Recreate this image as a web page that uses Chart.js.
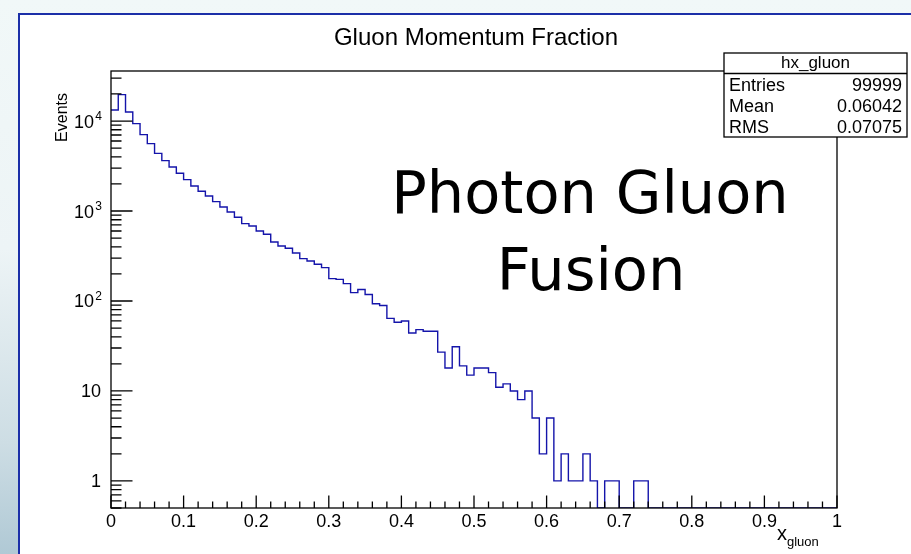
<!DOCTYPE html>
<html>
<head>
<meta charset="utf-8">
<script src="https://cdn.jsdelivr.net/npm/chart.js@4.4.1/dist/chart.umd.min.js"></script>
<style>
  html, body { margin: 0; padding: 0; }
  body {
    width: 911px; height: 554px; overflow: hidden; position: relative;
    background: linear-gradient(to bottom, #f1f8f8 0%, #edf4f6 45%, #cddde4 80%, #b0c9d5 100%);
  }
  #pad {
    position: absolute; left: 18px; top: 13px; right: 0; bottom: 0;
    background: #fff; border-left: 2px solid #1b2fa8; border-top: 2px solid #1b2fa8;
  }
  #chart { position: absolute; left: 0; top: 0; }
</style>
</head>
<body>
<div id="pad"></div>
<canvas id="chart" width="911" height="554"></canvas>
<script>
// histogram hx_gluon: 100 bins from 0 to 1
const binLow = 0;
const binWidth = 0.01;
const xgluonCounts = [
  13250, 19650, 12590, 9360, 7060, 5610, 4375, 3630, 3083, 2624,
  2233, 1897, 1656, 1468, 1271, 1107, 974, 851, 724, 681,
  600, 551, 452, 408, 385, 341, 296, 278, 256, 235,
  177, 174, 156, 124, 134, 118, 93, 89, 64, 58,
  60, 44, 48, 46, 46, 27, 18, 31, 19, 15,
  18, 18, 16, 11, 12, 10, 8, 10, 5, 2,
  5, 1, 2, 1, 1, 2, 1, 0, 1, 1,
  0, 0, 1, 1, 0, 0, 0, 0, 0, 0,
  0, 0, 0, 0, 0, 0, 0, 0, 0, 0,
  0, 0, 0, 0, 0, 0, 0, 0, 0, 0
];

const xTickValues = [0, 0.1, 0.2, 0.3, 0.4, 0.5, 0.6, 0.7, 0.8, 0.9, 1];
const xTickLabels = ['0', '0.1', '0.2', '0.3', '0.4', '0.5', '0.6', '0.7', '0.8', '0.9', '1'];
const yTickValues = [1, 10, 100, 1000, 10000];
const yTickLabels = [['1', ''], ['10', ''], ['10', '2'], ['10', '3'], ['10', '4']];
const yAxisMin = 0.5;
const yAxisMax = 36000;

const statsName = 'hx_gluon';
const statsLabels = ['Entries', 'Mean', 'RMS'];
const statsValues = ['99999', '0.06042', '0.07075'];

const HELV = '"Liberation Sans", Arial, sans-serif';

function txt(ctx, s, x, y, size, align, sx) {
  ctx.save();
  ctx.font = size + 'px ' + HELV;
  ctx.textAlign = align || 'left';
  ctx.textBaseline = 'alphabetic';
  ctx.translate(x, y);
  ctx.scale(sx || 1, 1);
  ctx.fillText(s, 0, 0);
  ctx.restore();
}

const rootStyle = {
  id: 'rootStyle',
  afterDatasetsDraw(chart) {
    const { ctx, chartArea: a } = chart;
    const xs = chart.scales.x, ys = chart.scales.y;
    ctx.save();
    ctx.strokeStyle = '#000';
    ctx.fillStyle = '#000';
    ctx.lineWidth = 1.3;

    // frame
    ctx.strokeRect(a.left, a.top, a.right - a.left, a.bottom - a.top);

    // x ticks, pointing into the frame
    ctx.beginPath();
    for (let v = 0; v <= 50; v++) {
      const px = xs.getPixelForValue(v * 0.02);
      const len = v % 5 === 0 ? 12.5 : 6.5;
      ctx.moveTo(px, a.bottom);
      ctx.lineTo(px, a.bottom - len);
    }
    // y ticks (log)
    for (let d = -1; d <= 4; d++) {
      for (let m = 1; m <= 9; m++) {
        const v = m * Math.pow(10, d);
        if (v < ys.min || v > ys.max) continue;
        const py = ys.getPixelForValue(v);
        const len = m === 1 ? 21.5 : 10.5;
        ctx.moveTo(a.left, py);
        ctx.lineTo(a.left + len, py);
      }
    }
    ctx.stroke();

    // x tick labels
    xTickValues.forEach((v, i) => {
      txt(ctx, xTickLabels[i], xs.getPixelForValue(v), 527, 18, 'center');
    });
    // y tick labels
    yTickValues.forEach((v, i) => {
      const py = ys.getPixelForValue(v);
      const [base, exp] = yTickLabels[i];
      if (exp) {
        txt(ctx, exp, 102, py - 1, 12, 'right');
        txt(ctx, base, 94, py + 6.5, 18, 'right');
      } else {
        txt(ctx, base, 101, py + 6.5, 18, 'right');
      }
    });

    // axis titles
    txt(ctx, 'x', 787, 540, 20, 'right');
    txt(ctx, 'gluon', 787, 546, 13, 'left');
    ctx.save();
    ctx.translate(67, 93);
    ctx.rotate(-Math.PI / 2);
    txt(ctx, 'Events', 0, 0, 16, 'right');
    ctx.restore();

    // title
    txt(ctx, 'Gluon Momentum Fraction', 476, 45, 24, 'center');

    // stats box
    const bx = 724, by = 53, bw = 183, bh = 84;
    ctx.fillStyle = '#fff';
    ctx.fillRect(bx, by, bw, bh);
    ctx.strokeRect(bx, by, bw, bh);
    ctx.beginPath();
    ctx.moveTo(bx, by + 20.5);
    ctx.lineTo(bx + bw, by + 20.5);
    ctx.stroke();
    ctx.fillStyle = '#000';
    txt(ctx, statsName, bx + bw / 2, by + 15, 17, 'center');
    statsLabels.forEach((l, i) => {
      const base = by + 37.5 + i * 21;
      txt(ctx, l, bx + 5, base, 18, 'left');
      txt(ctx, statsValues[i], bx + bw - 5, base, 18, 'right');
    });

    // annotation
    ctx.font = '59px "DejaVu Sans", sans-serif';
    ctx.textAlign = 'center';
    ctx.fillText('Photon Gluon', 590, 213);
    ctx.fillText('Fusion', 591, 290);
    ctx.restore();
  }
};

// empty bins sit on the bottom of the log axis, as ROOT draws them
const points = xgluonCounts.map((c, i) => ({ x: binLow + i * binWidth, y: Math.max(c, yAxisMin) }));
points.push({ x: binLow + xgluonCounts.length * binWidth, y: points[points.length - 1].y });

new Chart(document.getElementById('chart'), {
  type: 'line',
  data: {
    datasets: [{
      label: 'hx_gluon',
      data: points,
      stepped: true,
      borderColor: '#1414aa',
      borderWidth: 1.4,
      pointRadius: 0,
      fill: false
    }]
  },
  options: {
    responsive: false,
    animation: false,
    layout: { padding: { left: 111, right: 74, top: 71, bottom: 46 } },
    plugins: { legend: { display: false }, tooltip: { enabled: false } },
    scales: {
      x: { type: 'linear', min: 0, max: 1, display: false },
      y: { type: 'logarithmic', min: yAxisMin, max: yAxisMax, bounds: 'data', display: false }
    }
  },
  plugins: [rootStyle]
});
</script>
</body>
</html>
